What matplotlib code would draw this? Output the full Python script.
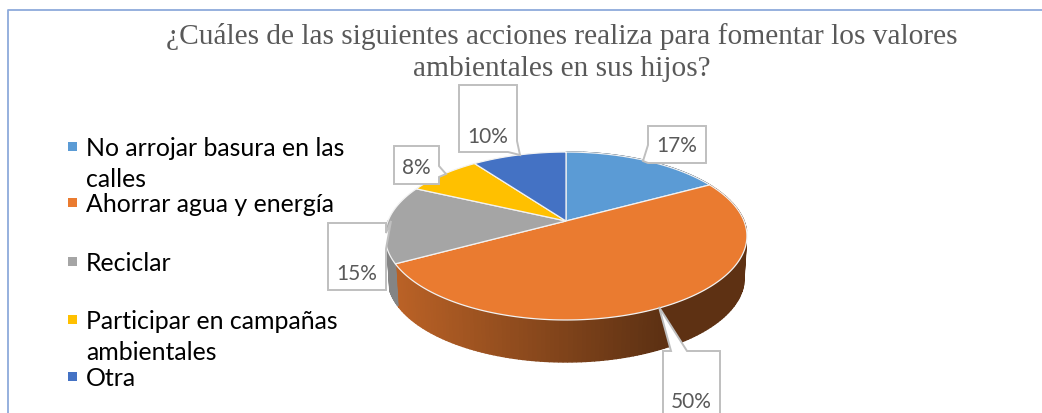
import numpy as np
import matplotlib
matplotlib.use('Agg')
import matplotlib.pyplot as plt
from matplotlib.patches import Polygon, Rectangle

title_lines = ['¿Cuáles de las siguientes acciones realiza para fomentar los valores',
               'ambientales en sus hijos?']
categories = ['No arrojar basura en las\ncalles', 'Ahorrar agua y energía', 'Reciclar',
              'Participar en campañas\nambientales', 'Otra']
values = [17, 50, 15, 8, 10]
colors = ['#5B9BD5', '#EA7B30', '#A5A5A5', '#FFC000', '#4472C4']
labels = ['17%', '50%', '15%', '8%', '10%']

W, H = 1042, 414
CX, CY = 566, 222
A, B, K = 178, 81.3, 0.1786
DEPTH = 42


def project(theta):
    # tilted pie: circle -> ellipse with some perspective
    u, v = np.sin(theta), np.cos(theta)
    d = 1 + K * v
    return CX + A * u / d, CY - B * v / d


def shade(c, f):
    return tuple(np.array(matplotlib.colors.to_rgb(c)) * f)


fig = plt.figure(figsize=(W / 100, H / 100), dpi=100)
ax = fig.add_axes([0, 0, 1, 1])
ax.set_xlim(0, W)
ax.set_ylim(H, 0)
ax.axis('off')

# frame, right side is cut off in the original
ax.plot([8, 8, W], [H, 11, 11], color='#8EAADB', lw=1.3)

for i, line in enumerate(title_lines):
    ax.text(561.5, 36 + i * 33, line, family='Liberation Serif', fontsize=21.2, color='#595959',
            ha='center', va='center')

edges = np.cumsum([0] + values) / sum(values) * 2 * np.pi

# side wall, only the front part of the rim shows
for i, (c, t0, t1) in enumerate(zip(colors, edges[:-1], edges[1:])):
    ts = np.linspace(t0, t1, 150)
    for a, b in zip(ts[:-1], ts[1:]):
        if np.sin(a) < 0 and np.cos(a) > 0:
            continue
        xa, ya = project(a)
        xb, yb = project(b)
        if i == 2 and xb < 387:
            continue
        if max(xa, xb) > 746.5:
            continue
        mid = (xa + xb) / 2
        # darkening from left to right
        f = np.interp(mid, [392, 660, 750], [0.80, 0.40, 0.40])
        col = shade(c, f if i != 2 else 0.8)
        ax.add_patch(Polygon([(xa, ya), (xb, yb),
                              (CX + (xb - CX) * 0.985, yb + DEPTH),
                              (CX + (xa - CX) * 0.985, ya + DEPTH)],
                             closed=True, fc=col, ec=col, lw=1.0))

# top faces
for c, t0, t1 in zip(colors, edges[:-1], edges[1:]):
    ts = np.linspace(t0, t1, 200)
    xs, ys = project(ts)
    pts = [(CX, CY)] + list(zip(xs, ys))
    ax.add_patch(Polygon(pts, closed=True, fc=c, ec='#F2F2F2', lw=0.9))

# callout outlines
callouts = [
    [(648, 127), (706, 127), (706, 164), (648, 164), (643, 162), (648, 146)],
    [(663, 352), (671, 352), (659, 308), (687, 352), (720, 352), (720, 420), (663, 420)],
    [(328, 224), (386, 224), (386, 234), (391, 222), (386, 250), (386, 291), (328, 291)],
    [(394, 147), (439, 147), (439, 167), (446, 175), (439, 178), (439, 185), (394, 185)],
    [(459, 86), (517, 86), (517, 142), (520, 156), (508, 153), (459, 153)],
]
label_pos = [(677, 146), (691, 402), (357, 274), (416, 168), (488, 137)]
for lab, pts, (tx, ty) in zip(labels, callouts, label_pos):
    ax.add_patch(Polygon(pts, closed=True, fc='white', ec='#BFBFBF', lw=1.4, joinstyle='miter'))
    ax.text(tx, ty, lab, family='Lato', fontsize=15, color='#595959', ha='center', va='center')

# legend
legend_y = [147, 203, 262, 320, 377]
line_gap = 31
for name, c, y in zip(categories, colors, legend_y):
    ax.add_patch(Rectangle((68, y - 4.5), 9, 9, fc=c, ec='none'))
    for j, part in enumerate(name.split('\n')):
        ax.text(86, y + 1.5 + j * line_gap, part, family='Lato', fontsize=17.9, color='black',
                ha='left', va='center')

fig.savefig('out.png', dpi=100)
